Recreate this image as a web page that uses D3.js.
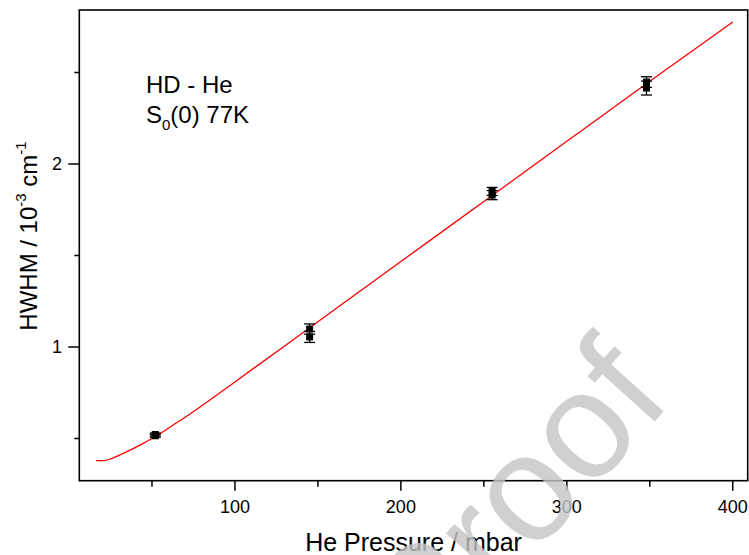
<!DOCTYPE html>
<html>
<head>
<meta charset="utf-8">
<script src="https://cdn.jsdelivr.net/npm/d3@7"></script>
<style>
  body { margin: 0; background: #fff; }
  text { font-family: "Liberation Sans", Arial, sans-serif; }
</style>
</head>
<body>
<svg id="chart" width="749" height="555"></svg>
<script>
// measured points (two runs per pressure)
const pressure = [52, 52, 145, 145, 255, 255, 348, 348];
const hwhm = [0.515, 0.522, 1.098, 1.055, 1.850, 1.830, 2.448, 2.415];
const hwhmErr = [0.008, 0.008, 0.028, 0.030, 0.022, 0.025, 0.029, 0.038];

// fitted curve
const fitP = [16.3, 21, 26, 32.7, 42.8, 52.8, 62.8, 72.9, 83, 96, 150, 200, 255, 300, 350, 400];
const fitH = [0.379, 0.379, 0.392, 0.419, 0.464, 0.515, 0.574, 0.634, 0.698, 0.783, 1.138, 1.467, 1.828, 2.124, 2.452, 2.776];

const xTicks = [50, 100, 150, 200, 250, 300, 350, 400];
const xLabels = [100, 200, 300, 400];
const yTicks = [0.5, 1, 1.5, 2, 2.5];
const yLabels = [1, 2];

const svg = d3.select("#chart");
const plotL = 79.3, plotR = 747.7, plotT = 10, plotB = 480.7;

const x = d3.scaleLinear().domain([6.2, 409]).range([plotL, plotR]);
const y = d3.scaleLinear().domain([0.2694, 2.8415]).range([plotB, plotT]);

// frame
svg.append("rect")
  .attr("x", plotL).attr("y", plotT)
  .attr("width", plotR - plotL).attr("height", plotB - plotT)
  .attr("fill", "none").attr("stroke", "#000").attr("stroke-width", 1.6);

// x ticks
svg.append("g").selectAll("line")
  .data(xTicks)
  .enter()
  .append("line")
  .attr("x1", d => x(d)).attr("x2", d => x(d))
  .attr("y1", plotB)
  .attr("y2", d => plotB + (xLabels.includes(d) ? 10 : 6))
  .attr("stroke", "#000").attr("stroke-width", 1.5);

svg.append("g").selectAll("text")
  .data(xLabels)
  .enter()
  .append("text")
  .attr("x", d => x(d)).attr("y", 513)
  .attr("text-anchor", "middle")
  .style("font-size", "18px")
  .text(d => d);

// y ticks
svg.append("g").selectAll("line")
  .data(yTicks)
  .enter()
  .append("line")
  .attr("y1", d => y(d)).attr("y2", d => y(d))
  .attr("x1", plotL)
  .attr("x2", d => plotL - (yLabels.includes(d) ? 11 : 5))
  .attr("stroke", "#000").attr("stroke-width", 1.5);

svg.append("g").selectAll("text")
  .data(yLabels)
  .enter()
  .append("text")
  .attr("x", 62).attr("y", d => y(d) + 6.5)
  .attr("text-anchor", "end")
  .style("font-size", "18px")
  .text(d => d);

// fit curve
const line = d3.line()
  .x((d, i) => x(fitP[i]))
  .y(d => y(d))
  .curve(d3.curveMonotoneX);

svg.append("path")
  .datum(fitH)
  .attr("d", line)
  .attr("fill", "none")
  .attr("stroke", "#ff0000")
  .attr("stroke-width", 1.3);

// error bars + markers
const pts = pressure.map((p, i) => ({ p: p, h: hwhm[i], e: hwhmErr[i] }));
const g = svg.append("g").selectAll("g")
  .data(pts)
  .enter()
  .append("g");

g.append("line")
  .attr("x1", d => x(d.p)).attr("x2", d => x(d.p))
  .attr("y1", d => y(d.h - d.e)).attr("y2", d => y(d.h + d.e))
  .attr("stroke", "#000").attr("stroke-width", 1.2);

[-1, 1].forEach(s => {
  g.append("line")
    .attr("x1", d => x(d.p) - 5.5).attr("x2", d => x(d.p) + 5.5)
    .attr("y1", d => y(d.h + s * d.e)).attr("y2", d => y(d.h + s * d.e))
    .attr("stroke", "#000").attr("stroke-width", 1.3);
});

g.append("rect")
  .attr("x", d => x(d.p) - 3.5).attr("y", d => y(d.h) - 3.5)
  .attr("width", 7).attr("height", 7)
  .attr("fill", "#000");

// axis titles
svg.append("text")
  .attr("x", (plotL + plotR) / 2).attr("y", 551)
  .attr("text-anchor", "middle")
  .style("font-size", "25px")
  .text("He Pressure / mbar");

const yt = svg.append("text")
  .attr("transform", "translate(37,236) rotate(-90)")
  .attr("text-anchor", "middle")
  .style("font-size", "24px");
yt.append("tspan").text("HWHM / 10");
yt.append("tspan").attr("dy", -11).style("font-size", "15px").text("-3");
yt.append("tspan").attr("dy", 11).text(" cm");
yt.append("tspan").attr("dy", -11).style("font-size", "15px").text("-1");

// annotation
svg.append("text")
  .attr("x", 146).attr("y", 93)
  .style("font-size", "24px")
  .text("HD - He");

const s0 = svg.append("text")
  .attr("x", 146).attr("y", 123)
  .style("font-size", "24px");
s0.append("tspan").text("S");
s0.append("tspan").attr("dy", 7).style("font-size", "15px").text("0");
s0.append("tspan").attr("dy", -7).text("(0) 77K");

// watermark
svg.append("text")
  .attr("transform", "translate(674,400) rotate(-48)")
  .attr("text-anchor", "end")
  .style("font-size", "152px")
  .attr("fill", "#c4c4c4")
  .attr("fill-opacity", 0.8)
  .text("Proof");
</script>
</body>
</html>
